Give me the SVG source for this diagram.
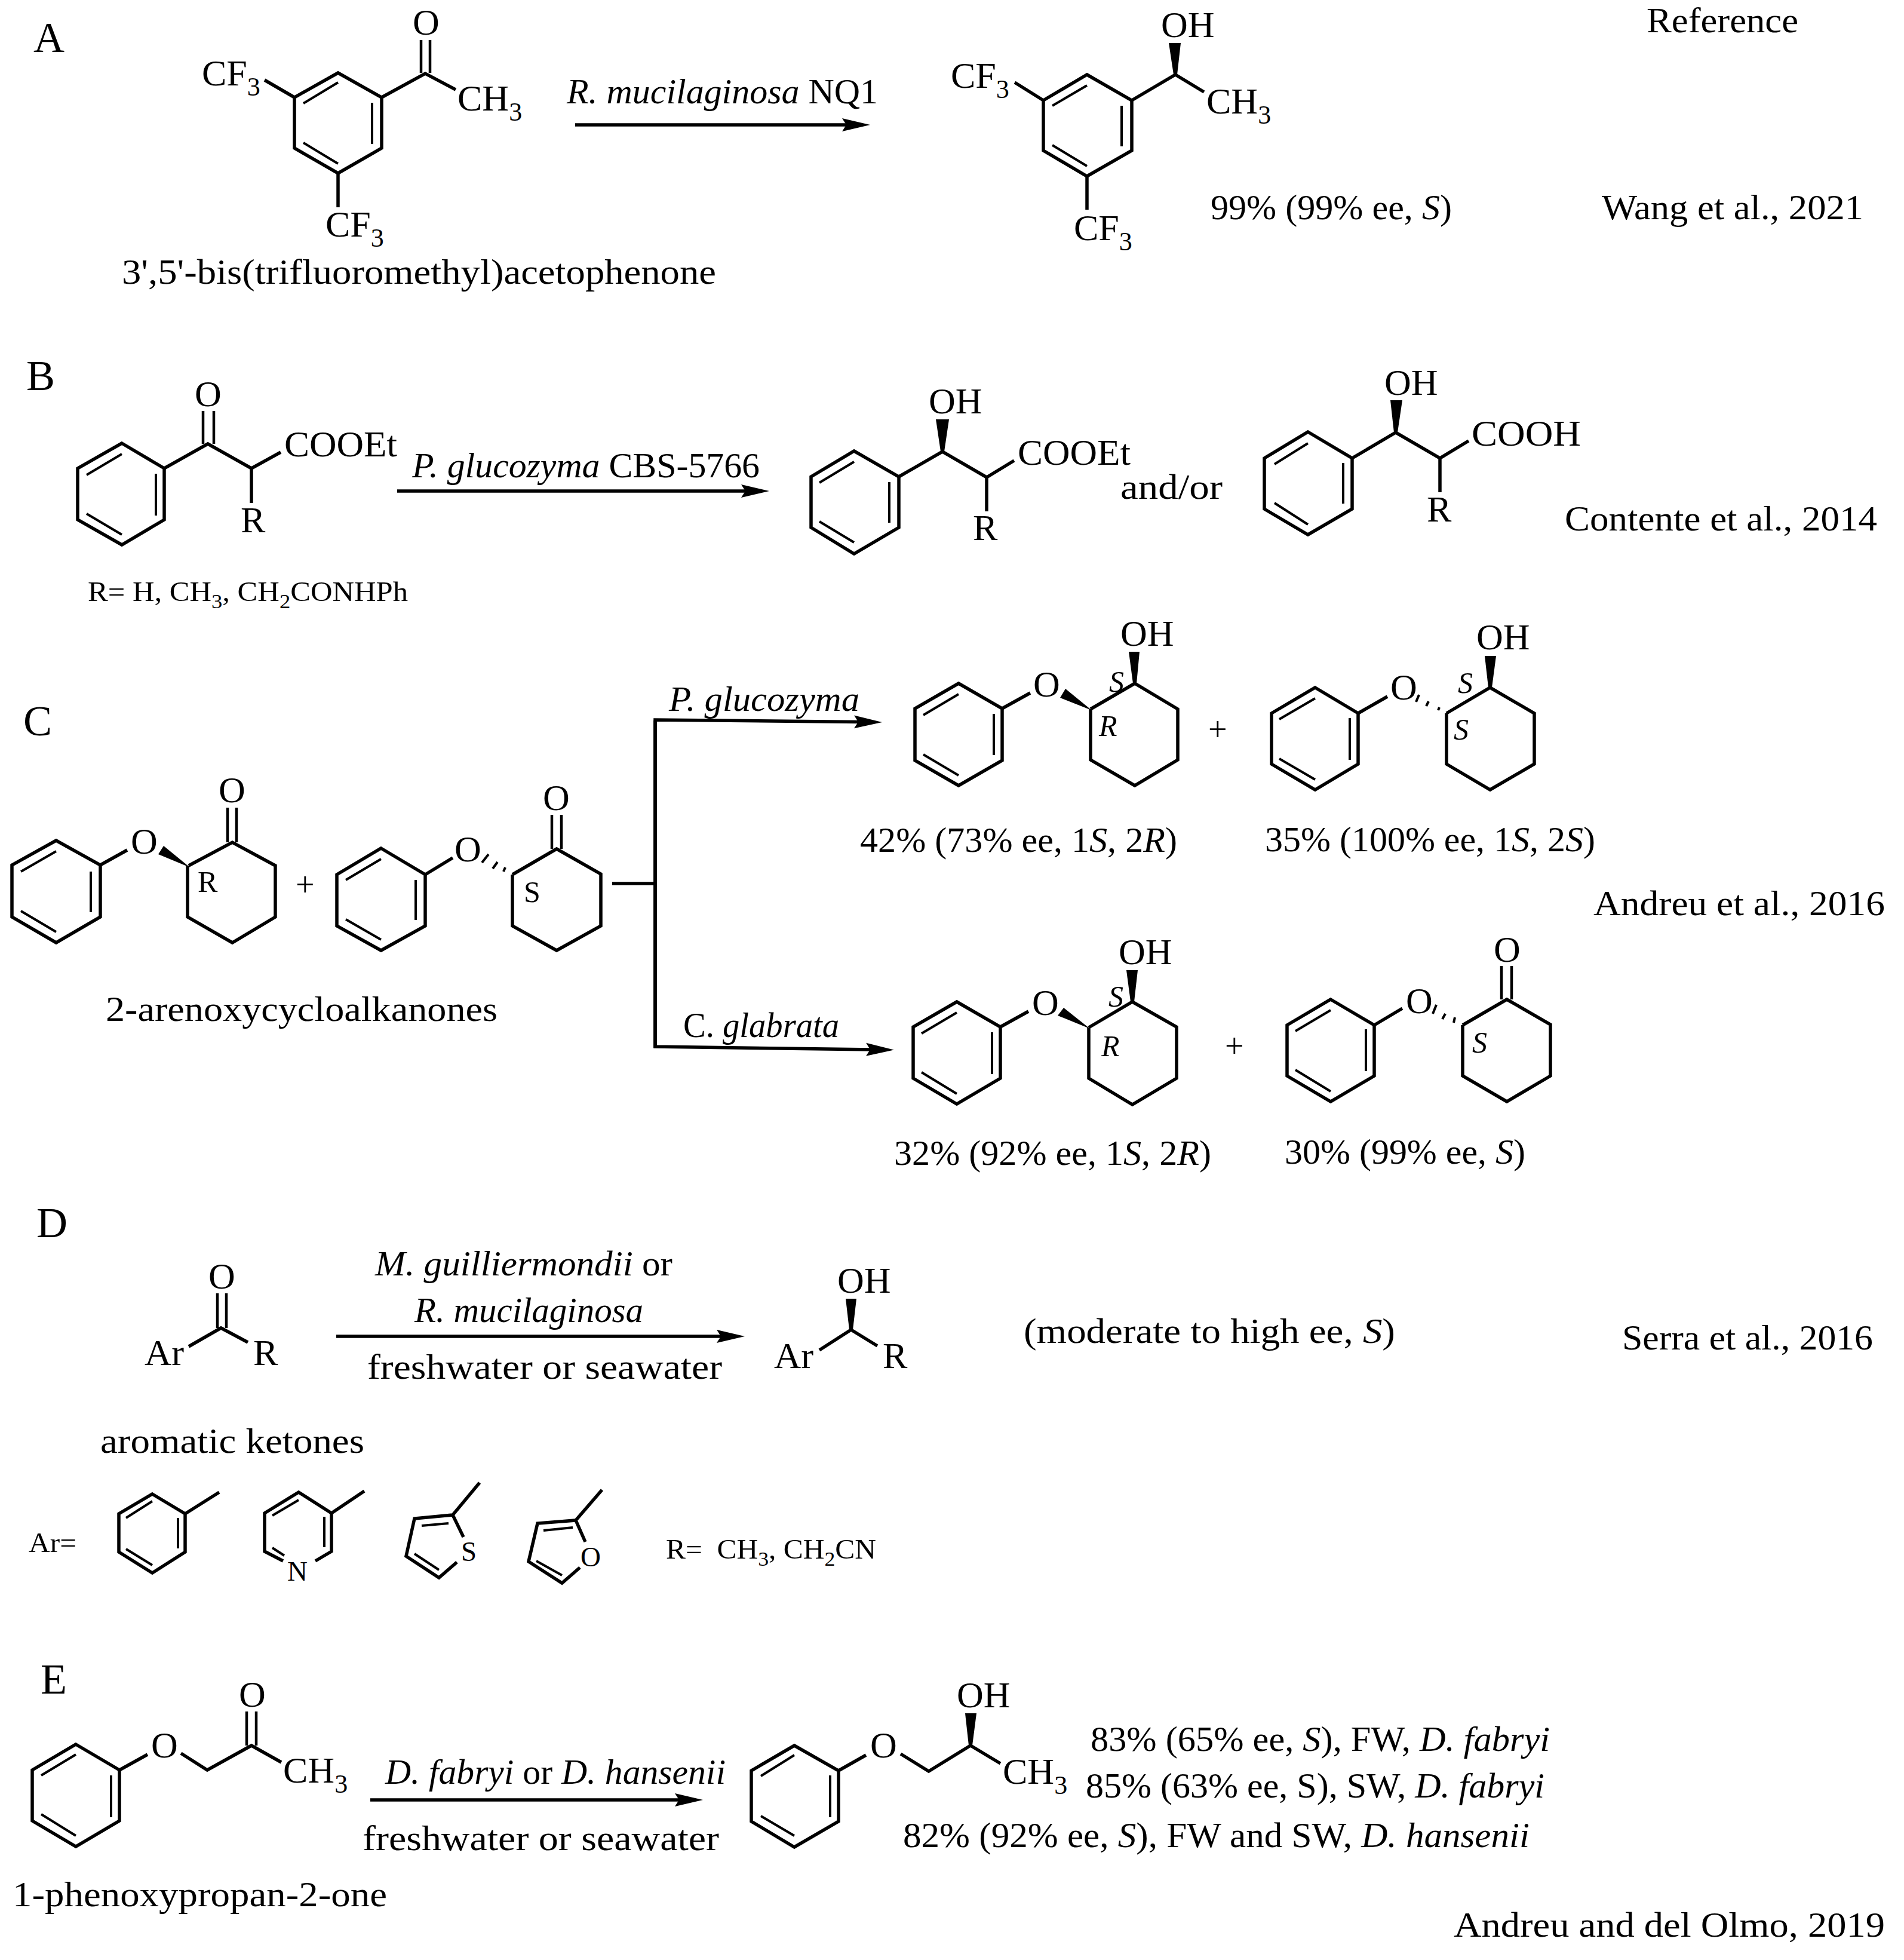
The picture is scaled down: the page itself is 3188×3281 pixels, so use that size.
<svg xmlns="http://www.w3.org/2000/svg" width="3188" height="3281" viewBox="0 0 3188 3281">
<style>
text{font-family:"Liberation Serif","Times New Roman",serif;fill:#000;font-size:60px}
.a{font-size:62px}
.h{font-size:72px}
.m{font-size:50px}
.s{font-size:47px}
.p{font-size:56px}
.u{font-size:44px}
.v{font-size:34px}
.i{font-style:italic}
.b{fill:none;stroke:#000;stroke-width:5.5;stroke-linejoin:miter;stroke-linecap:butt}
.n{fill:none;stroke:#000;stroke-width:4}
.w{fill:#000;stroke:none}
.c{fill:none;stroke:#000;stroke-width:5.5}
</style>
<defs>
<marker id="head" markerUnits="userSpaceOnUse" markerWidth="50" markerHeight="26" refX="10" refY="13" orient="auto">
<path d="M0,2 L47,13 L0,24 L7,13 Z" fill="#000"/>
</marker>
</defs>
<rect width="3188" height="3281" fill="#fff"/>

<g id="connectors">
<path class="c" d="M963,209 H1420" marker-end="url(#head)"/>
<path class="c" d="M665,822 H1251" marker-end="url(#head)"/>
<path class="c" d="M1025,1479 H1097"/>
<path class="c" d="M1097,1754 V1205 L1440,1208.5" marker-end="url(#head)"/>
<path class="c" d="M1097,1206 V1752 L1460,1757" marker-end="url(#head)"/>
<path class="c" d="M563,2237 H1210" marker-end="url(#head)"/>
<path class="c" d="M620,3013 H1140" marker-end="url(#head)"/>
</g>

<g id="panel-labels">
<text class="h" x="56" y="87">A</text>
<text class="h" x="44" y="653">B</text>
<text class="h" x="39" y="1231">C</text>
<text class="h" x="61" y="2071">D</text>
<text class="h" x="68" y="2835">E</text>
</g>

<g id="A-substrate">
<path class="b" d="M566,122 L639,163 V248 L566,290 L493,248 V163 Z"/>
<path class="n" d="M508,173 L566,138 M623,172 V241 M508,239 L566,274"/>
<path class="b" d="M493,163 L443,134 M639,163 L712,123 L763,150 M566,290 V347"/>
<path class="b" style="stroke-width:4.5" d="M705,67 V122 M720,67 V122"/>
<text class="a" x="691" y="58">O</text>
<text class="a" x="338" y="143">CF<tspan class="u" dy="17">3</tspan></text>
<text class="a" x="766" y="185">CH<tspan class="u" dy="17">3</tspan></text>
<text class="a" x="545" y="396">CF<tspan class="u" dy="17">3</tspan></text>
<text x="204" y="475" textLength="995" lengthAdjust="spacingAndGlyphs">3',5'-bis(trifluoromethyl)acetophenone</text>
</g>
<text id="A-enzyme" x="949" y="173" textLength="521" lengthAdjust="spacingAndGlyphs"><tspan class="i">R. mucilaginosa</tspan> NQ1</text>

<g id="A-product">
<path class="b" d="M1820,125 L1895,168 V252 L1820,295 L1747,252 V168 Z"/>
<path class="n" d="M1762,177 L1820,143 M1878,177 V245 M1762,243 L1820,278"/>
<path class="b" d="M1747,168 L1699,138 M1895,168 L1968,125 L2016,154 M1820,295 V351"/>
<polygon class="w" points="1965,125 1957,72 1977,72 1971,125"/>
<text class="a" x="1944" y="62">OH</text>
<text class="a" x="1592" y="147">CF<tspan class="u" dy="17">3</tspan></text>
<text class="a" x="2020" y="190">CH<tspan class="u" dy="17">3</tspan></text>
<text class="a" x="1798" y="402">CF<tspan class="u" dy="17">3</tspan></text>
<text x="2027" y="367" textLength="404" lengthAdjust="spacingAndGlyphs">99% (99% ee, <tspan class="i">S</tspan>)</text>
</g>
<text id="ref-head" x="2757" y="54" textLength="254" lengthAdjust="spacingAndGlyphs">Reference</text>
<text id="ref-A" x="2682" y="367" textLength="438" lengthAdjust="spacingAndGlyphs">Wang et al., 2021</text>

<g id="B-substrate">
<path class="b" d="M204,742 L275,784 V870 L204,912 L130,870 V784 Z"/>
<path class="n" d="M145,795 L204,760 M261,793 V863 M145,860 L204,895"/>
<path class="b" d="M275,784 L348,743 L421,784 L470,757 M421,784 V842"/>
<path class="b" style="stroke-width:4.5" d="M340,688 V743 M358,688 V743"/>
<text class="a" x="326" y="680">O</text>
<text class="a" x="403" y="891">R</text>
<text class="a" x="476" y="764" textLength="189" lengthAdjust="spacingAndGlyphs">COOEt</text>
<text class="s" x="147" y="1006" textLength="536" lengthAdjust="spacingAndGlyphs">R= H, CH<tspan class="v" dy="12">3</tspan><tspan dy="-12">, CH</tspan><tspan class="v" dy="12">2</tspan><tspan dy="-12">CONHPh</tspan></text>
</g>
<text id="B-enzyme" x="690" y="799" textLength="582" lengthAdjust="spacingAndGlyphs"><tspan class="i">P. glucozyma</tspan> CBS-5766</text>

<g id="B-product-1">
<path class="b" d="M1430,755 L1505,798 V883 L1430,927 L1358,883 V798 Z"/>
<path class="n" d="M1372,808 L1430,773 M1489,807 V875 M1372,873 L1430,908"/>
<path class="b" d="M1505,798 L1578,756 L1652,799 L1698,771 M1652,799 V856"/>
<polygon class="w" points="1575,756 1567,702 1589,702 1581,756"/>
<text class="a" x="1555" y="692">OH</text>
<text class="a" x="1629" y="904">R</text>
<text class="a" x="1704" y="778" textLength="189" lengthAdjust="spacingAndGlyphs">COOEt</text>
</g>
<text id="and-or" x="1876" y="835" textLength="171" lengthAdjust="spacingAndGlyphs">and/or</text>
<g id="B-product-2">
<path class="b" d="M2190,723 L2264,767 V852 L2190,895 L2117,852 V767 Z"/>
<path class="n" d="M2134,777 L2190,742 M2249,775 V843 M2134,842 L2190,878"/>
<path class="b" d="M2264,767 L2337,724 L2411,767 L2459,738 M2411,767 V824"/>
<polygon class="w" points="2334,724 2328,670 2348,670 2340,724"/>
<text class="a" x="2318" y="661">OH</text>
<text class="a" x="2389" y="873">R</text>
<text class="a" x="2464" y="746" textLength="183" lengthAdjust="spacingAndGlyphs">COOH</text>
</g>
<text id="ref-B" x="2620" y="888" textLength="523" lengthAdjust="spacingAndGlyphs">Contente et al., 2014</text>

<g id="C-substrate-R">
<path class="b" d="M94,1407 L168,1448 V1535 L94,1578 L20,1535 V1448 Z"/>
<path class="n" d="M35,1459 L94,1425 M152,1459 V1527 M35,1525 L94,1560"/>
<path class="b" d="M168,1448 L213,1423"/>
<path class="b" d="M316,1449 L389,1410 L461,1449 V1535 L389,1578 L314,1535 V1449"/>
<path class="b" style="stroke-width:4.5" d="M381,1352 V1410 M396,1352 V1410"/>
<polygon class="w" points="318,1452 265,1430 274,1416"/>
<text class="a" x="219" y="1429">O</text>
<text class="a" x="366" y="1343">O</text>
<text class="m" x="331" y="1493">R</text>
</g>
<text id="C-plus-1" class="p" x="495" y="1500">+</text>
<g id="C-substrate-S">
<path class="b" d="M638,1420 L712,1464 V1550 L638,1591 L564,1550 V1464 Z"/>
<path class="n" d="M579,1473 L638,1438 M696,1473 V1540 M579,1539 L638,1573"/>
<path class="b" d="M712,1464 L758,1436"/>
<path class="b" d="M858,1464 L932,1421 L1006,1463 V1550 L932,1591 L858,1550 V1464"/>
<path class="b" style="stroke-width:4.5" d="M924,1364 V1421 M940,1364 V1421"/>
<path class="n" d="M807,1444 L818,1430 M825,1454 L833,1443 M843,1459 L846,1452"/>
<text class="a" x="761" y="1442">O</text>
<text class="a" x="909" y="1356">O</text>
<text class="m" x="877" y="1510">S</text>
</g>
<text id="C-substrate-name" x="177" y="1709" textLength="656" lengthAdjust="spacingAndGlyphs">2-arenoxycycloalkanones</text>
<text id="C-enzyme-1" class="i" x="1120" y="1190" textLength="319" lengthAdjust="spacingAndGlyphs">P. glucozyma</text>
<text id="C-enzyme-2" x="1144" y="1736" textLength="261" lengthAdjust="spacingAndGlyphs">C. <tspan class="i">glabrata</tspan></text>

<g id="C-product-1">
<path class="b" d="M1605,1144 L1678,1186 V1273 L1605,1315 L1532,1273 V1186 Z"/>
<path class="n" d="M1546,1197 L1605,1162 M1664,1195 V1264 M1546,1263 L1605,1298"/>
<path class="b" d="M1678,1186 L1725,1160"/>
<path class="b" d="M1826,1187 L1900,1144 L1972,1187 V1272 L1900,1315 L1826,1272 V1187"/>
<polygon class="w" points="1828,1189 1775,1168 1784,1153"/>
<polygon class="w" points="1897,1144 1890,1091 1908,1091 1903,1144"/>
<text class="a" x="1730" y="1166">O</text>
<text class="a" x="1876" y="1081">OH</text>
<text class="m i" x="1857" y="1158">S</text>
<text class="m i" x="1840" y="1232">R</text>
<text x="1440" y="1426" textLength="531" lengthAdjust="spacingAndGlyphs">42% (73% ee, 1<tspan class="i">S</tspan>, 2<tspan class="i">R</tspan>)</text>
</g>
<text id="C-plus-2" class="p" x="2023" y="1240">+</text>
<g id="C-product-2">
<path class="b" d="M2202,1151 L2274,1194 V1279 L2202,1322 L2129,1279 V1194 Z"/>
<path class="n" d="M2142,1204 L2202,1169 M2260,1202 V1272 M2142,1270 L2202,1305"/>
<path class="b" d="M2274,1194 L2323,1166"/>
<path class="b" d="M2422,1194 L2495,1151 L2569,1194 V1279 L2495,1322 L2422,1279 V1194"/>
<polygon class="w" points="2492,1151 2486,1098 2505,1098 2498,1151"/>
<path class="n" d="M2376,1163 L2371,1175 M2392,1174 L2388,1182 M2410,1184 L2408,1189"/>
<text class="a" x="2328" y="1171">O</text>
<text class="a" x="2472" y="1087">OH</text>
<text class="m i" x="2441" y="1160">S</text>
<text class="m i" x="2434" y="1238">S</text>
<text x="2118" y="1425" textLength="553" lengthAdjust="spacingAndGlyphs">35% (100% ee, 1<tspan class="i">S</tspan>, 2<tspan class="i">S</tspan>)</text>
</g>
<text id="ref-C" x="2668" y="1532" textLength="488" lengthAdjust="spacingAndGlyphs">Andreu et al., 2016</text>

<g id="C-product-3">
<path class="b" d="M1602,1677 L1675,1719 V1805 L1602,1848 L1529,1805 V1719 Z"/>
<path class="n" d="M1543,1730 L1602,1695 M1661,1728 V1798 M1543,1795 L1602,1831"/>
<path class="b" d="M1675,1719 L1722,1693"/>
<path class="b" d="M1823,1720 L1896,1677 L1970,1719 V1805 L1896,1849 L1823,1805 V1720"/>
<polygon class="w" points="1825,1722 1771,1700 1781,1687"/>
<polygon class="w" points="1893,1677 1886,1624 1905,1624 1899,1677"/>
<text class="a" x="1728" y="1699">O</text>
<text class="a" x="1873" y="1614">OH</text>
<text class="m i" x="1856" y="1685">S</text>
<text class="m i" x="1844" y="1768">R</text>
<text x="1497" y="1950" textLength="531" lengthAdjust="spacingAndGlyphs">32% (92% ee, 1<tspan class="i">S</tspan>, 2<tspan class="i">R</tspan>)</text>
</g>
<text id="C-plus-3" class="p" x="2051" y="1770">+</text>
<g id="C-product-4">
<path class="b" d="M2228,1673 L2301,1716 V1801 L2228,1844 L2155,1801 V1716 Z"/>
<path class="n" d="M2169,1726 L2228,1691 M2287,1723 V1793 M2169,1791 L2228,1827"/>
<path class="b" d="M2301,1716 L2348,1688"/>
<path class="b" d="M2449,1716 L2523,1673 L2596,1715 V1801 L2523,1844 L2449,1801 V1716"/>
<path class="b" style="stroke-width:4.5" d="M2514,1617 V1673 M2531,1617 V1673"/>
<path class="n" d="M2405,1682 L2399,1697 M2420,1697 L2415,1706 M2436,1703 L2434,1712"/>
<text class="a" x="2354" y="1696">O</text>
<text class="a" x="2501" y="1610">O</text>
<text class="m i" x="2465" y="1762">S</text>
<text x="2151" y="1948" textLength="403" lengthAdjust="spacingAndGlyphs">30% (99% ee, <tspan class="i">S</tspan>)</text>
</g>

<g id="D-substrate">
<path class="b" d="M316,2254 L370,2223 L415,2247"/>
<path class="b" style="stroke-width:4.5" d="M364,2165 V2223 M379,2165 V2223"/>
<text class="a" x="349" y="2157">O</text>
<text class="a" x="242" y="2285" textLength="66" lengthAdjust="spacingAndGlyphs">Ar</text>
<text class="a" x="424" y="2285">R</text>
</g>
<text id="D-enzyme-1" x="628" y="2135" textLength="498" lengthAdjust="spacingAndGlyphs"><tspan class="i">M. guilliermondii</tspan> or</text>
<text id="D-enzyme-2" class="i" x="694" y="2213" textLength="383" lengthAdjust="spacingAndGlyphs">R. mucilaginosa</text>
<text id="D-medium" x="615" y="2308" textLength="594" lengthAdjust="spacingAndGlyphs">freshwater or seawater</text>
<g id="D-product">
<path class="b" d="M1372,2260 L1425,2226 L1469,2253"/>
<polygon class="w" points="1422,2226 1416,2174 1434,2174 1428,2226"/>
<text class="a" x="1402" y="2164">OH</text>
<text class="a" x="1296" y="2290" textLength="66" lengthAdjust="spacingAndGlyphs">Ar</text>
<text class="a" x="1478" y="2290">R</text>
</g>
<text id="D-result" x="1714" y="2248" textLength="622" lengthAdjust="spacingAndGlyphs">(moderate to high ee, <tspan class="i">S</tspan>)</text>
<text id="ref-D" x="2716" y="2259" textLength="420" lengthAdjust="spacingAndGlyphs">Serra et al., 2016</text>
<text id="D-name" x="168" y="2432" textLength="442" lengthAdjust="spacingAndGlyphs">aromatic ketones</text>
<text id="D-ar" class="s" x="48" y="2598" textLength="80" lengthAdjust="spacingAndGlyphs">Ar=</text>
<g id="Ar-phenyl">
<path class="b" d="M255,2501 L310,2534 V2598 L255,2633 L199,2598 V2534 Z M310,2534 L367,2498"/>
<path class="n" d="M211,2541 L255,2513 M298,2541 V2592 M211,2593 L255,2620"/>
</g>
<g id="Ar-pyridyl">
<path class="b" d="M474,2613 L443,2597 V2533 L500,2498 L555,2533 V2597 L528,2613 M555,2533 L610,2496"/>
<path class="n" d="M456,2537 L500,2511 M543,2539 V2590 M456,2591 L476,2604"/>
<text class="s" x="481" y="2646">N</text>
</g>
<g id="Ar-thienyl">
<path class="b" d="M776,2573 L758,2536 L694,2542 L680,2605 L735,2641 L765,2615 M758,2536 L803,2482"/>
<path class="n" d="M706,2554 L751,2550 M694,2601 L735,2628"/>
<text class="s" x="772" y="2613">S</text>
</g>
<g id="Ar-furyl">
<path class="b" d="M980,2581 L964,2545 L900,2550 L885,2614 L941,2650 L971,2624 M964,2545 L1008,2494"/>
<path class="n" d="M910,2562 L959,2557 M898,2613 L941,2637"/>
<text class="s" x="972" y="2622">O</text>
</g>
<text id="D-r" class="s" x="1115" y="2609" textLength="352" lengthAdjust="spacingAndGlyphs" xml:space="preserve">R=  CH<tspan class="v" dy="12">3</tspan><tspan dy="-12">, CH</tspan><tspan class="v" dy="12">2</tspan><tspan dy="-12">CN</tspan></text>

<g id="E-substrate">
<path class="b" d="M127,2920 L200,2963 V3048 L127,3091 L54,3048 V2963 Z"/>
<path class="n" d="M69,2972 L127,2937 M186,2972 V3042 M69,3037 L127,3073"/>
<path class="b" d="M200,2963 L247,2937 M303,2935 L347,2963 L421,2922 L471,2950"/>
<path class="b" style="stroke-width:4.5" d="M413,2865 V2922 M429,2865 V2922"/>
<text class="a" x="253" y="2942">O</text>
<text class="a" x="400" y="2857">O</text>
<text class="a" x="474" y="2984">CH<tspan class="u" dy="17">3</tspan></text>
<text x="21" y="3191" textLength="627" lengthAdjust="spacingAndGlyphs">1-phenoxypropan-2-one</text>
</g>
<text id="E-enzyme" x="645" y="2986" textLength="570" lengthAdjust="spacingAndGlyphs"><tspan class="i">D. fabryi</tspan> or <tspan class="i">D. hansenii</tspan></text>
<text id="E-medium" x="607" y="3097" textLength="597" lengthAdjust="spacingAndGlyphs">freshwater or seawater</text>
<g id="E-product">
<path class="b" d="M1330,2922 L1404,2964 V3049 L1330,3092 L1258,3049 V2964 Z"/>
<path class="n" d="M1274,2973 L1330,2938 M1390,2972 V3042 M1274,3040 L1330,3073"/>
<path class="b" d="M1404,2964 L1450,2938 M1508,2936 L1555,2965 L1625,2922 L1675,2952"/>
<polygon class="w" points="1622,2922 1616,2868 1635,2868 1628,2922"/>
<text class="a" x="1457" y="2942">O</text>
<text class="a" x="1602" y="2858">OH</text>
<text class="a" x="1679" y="2986">CH<tspan class="u" dy="17">3</tspan></text>
</g>
<text id="E-result-1" x="1826" y="2931" textLength="769" lengthAdjust="spacingAndGlyphs">83% (65% ee, <tspan class="i">S</tspan>), FW, <tspan class="i">D. fabryi</tspan></text>
<text id="E-result-2" x="1818" y="3009" textLength="768" lengthAdjust="spacingAndGlyphs">85% (63% ee, S), SW, <tspan class="i">D. fabryi</tspan></text>
<text id="E-result-3" x="1512" y="3092" textLength="1049" lengthAdjust="spacingAndGlyphs">82% (92% ee, <tspan class="i">S</tspan>), FW and SW, <tspan class="i">D. hansenii</tspan></text>
<text id="ref-E" x="2434" y="3242" textLength="722" lengthAdjust="spacingAndGlyphs">Andreu and del Olmo, 2019</text>
</svg>
